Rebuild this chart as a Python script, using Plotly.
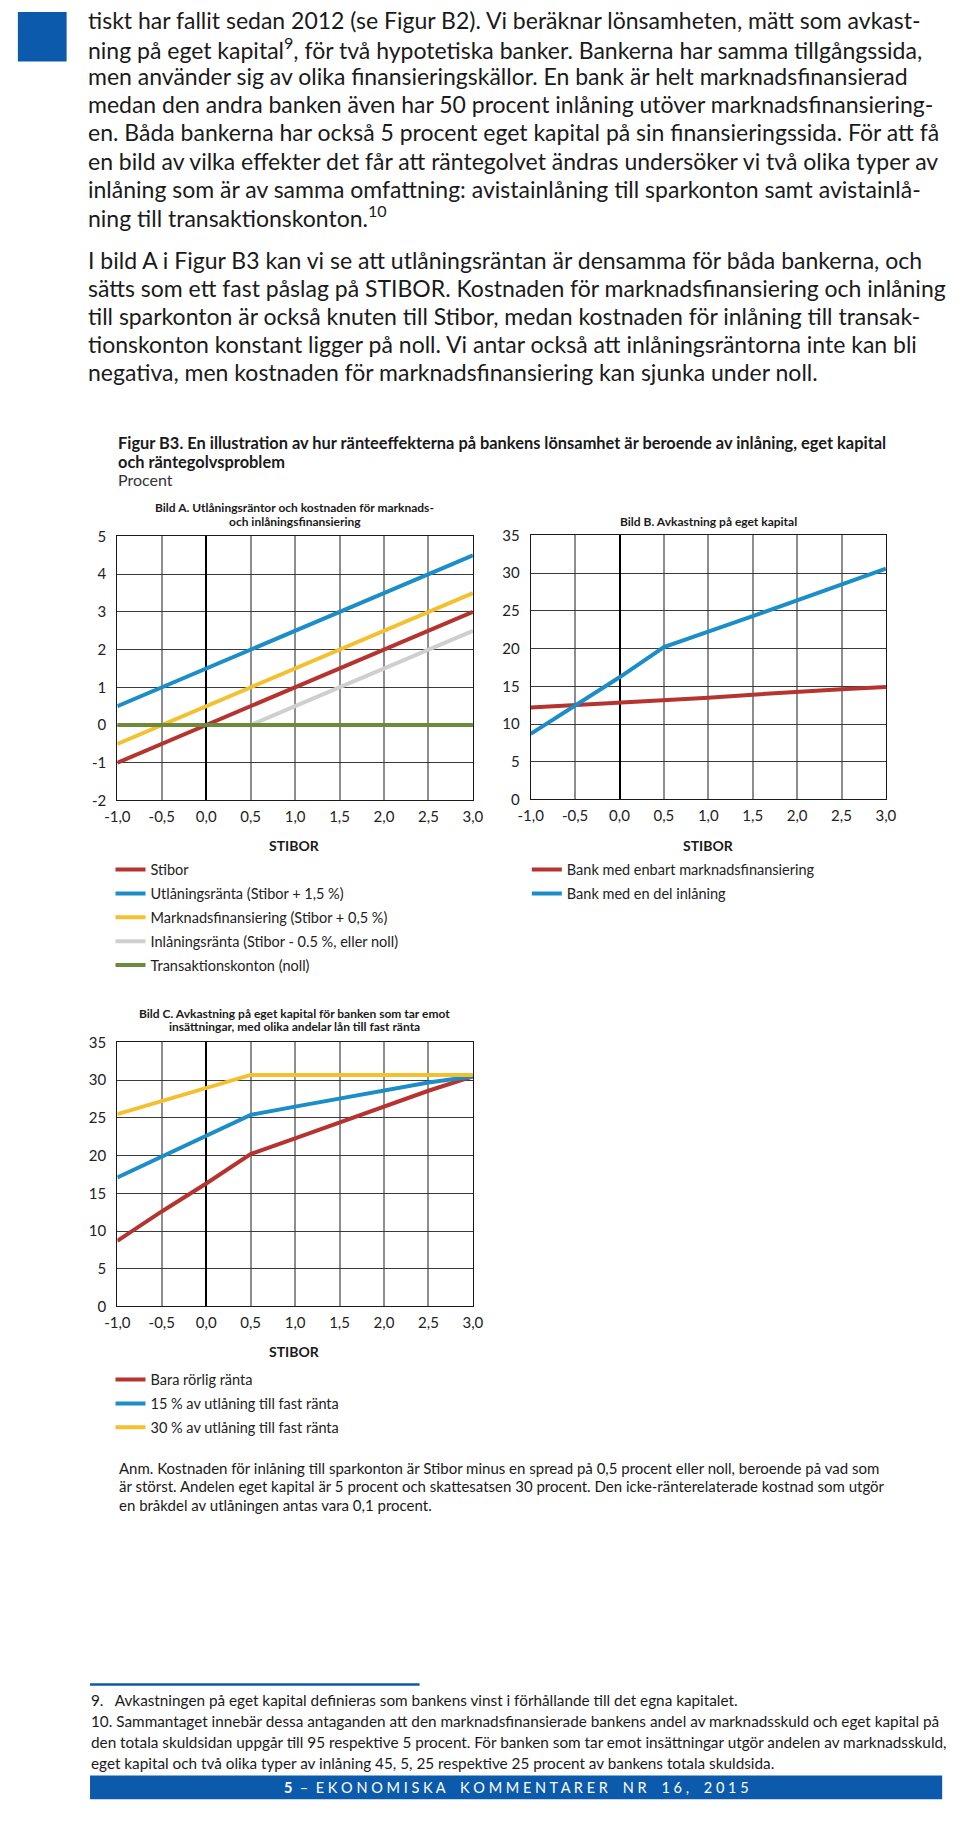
import plotly.graph_objects as go

W, H = 960, 1837

# ---------------- data ----------------
stibor_x = [-1.0, -0.5, 0.0, 0.5, 1.0, 1.5, 2.0, 2.5, 3.0]
x_ticklabels = ["-1,0", "-0,5", "0,0", "0,5", "1,0", "1,5", "2,0", "2,5", "3,0"]

# Bild A
a_stibor = [-1.0, -0.5, 0.0, 0.5, 1.0, 1.5, 2.0, 2.5, 3.0]
a_utlaning = [0.5, 1.0, 1.5, 2.0, 2.5, 3.0, 3.5, 4.0, 4.5]
a_marknad = [-0.5, 0.0, 0.5, 1.0, 1.5, 2.0, 2.5, 3.0, 3.5]
a_inlaning = [0.0, 0.0, 0.0, 0.0, 0.5, 1.0, 1.5, 2.0, 2.5]
a_transakt = [0.0, 0.0, 0.0, 0.0, 0.0, 0.0, 0.0, 0.0, 0.0]
a_yticks = [-2, -1, 0, 1, 2, 3, 4, 5]
a_yticklabels = ["-2", "-1", "0", "1", "2", "3", "4", "5"]

# Bild B
b_marknad = [12.2, 12.5, 12.8, 13.2, 13.5, 13.9, 14.3, 14.6, 14.9]
b_inlaning = [8.7, 12.5, 16.2, 20.2, 22.2, 24.3, 26.4, 28.5, 30.6]

# Bild C
c_rorlig = [8.7, 12.6, 16.3, 20.2, 22.3, 24.4, 26.5, 28.6, 30.5]
c_fast15 = [17.1, 19.9, 22.7, 25.4, 26.5, 27.6, 28.6, 29.7, 30.5]
c_fast30 = [25.5, 27.2, 29.0, 30.7, 30.7, 30.7, 30.7, 30.7, 30.7]

bc_yticks = [0, 5, 10, 15, 20, 25, 30, 35]
bc_yticklabels = ["0", "5", "10", "15", "20", "25", "30", "35"]

names_a = ["Stibor", "Utlåningsränta (Stibor + 1,5 %)", "Marknadsfinansiering (Stibor + 0,5 %)",
           "Inlåningsränta (Stibor - 0.5 %, eller noll)", "Transaktionskonton (noll)"]
names_b = ["Bank med enbart marknadsfinansiering", "Bank med en del inlåning"]
names_c = ["Bara rörlig ränta", "15 % av utlåning till fast ränta", "30 % av utlåning till fast ränta"]

RED = "#b5342f"
BLUE = "#1b8ec8"
YELLOW = "#f3c12f"
GREY = "#cfcfcf"
GREEN = "#6b8a3b"
NAVY = "#0b5aab"
FONT = "Lato"


def px(x):
    return x / W


def py(y):
    return 1 - y / H


fig = go.Figure()


def add(xs, ys, name, color, ax, leg):
    fig.add_trace(go.Scatter(
        x=xs, y=ys, name=name, mode="lines",
        line=dict(color=color, width=4),
        xaxis=ax[0], yaxis=ax[1], legend=leg, legendgroup=name,
        hoverinfo="skip"))


add(stibor_x, a_stibor, names_a[0], RED, ("x", "y"), "legend")
add(stibor_x, a_utlaning, names_a[1], BLUE, ("x", "y"), "legend")
add(stibor_x, a_marknad, names_a[2], YELLOW, ("x", "y"), "legend")
add(stibor_x, a_inlaning, names_a[3], GREY, ("x", "y"), "legend")
add(stibor_x, a_transakt, names_a[4], GREEN, ("x", "y"), "legend")

add(stibor_x, b_marknad, names_b[0], RED, ("x2", "y2"), "legend2")
add(stibor_x, b_inlaning, names_b[1], BLUE, ("x2", "y2"), "legend2")

add(stibor_x, c_rorlig, names_c[0], RED, ("x3", "y3"), "legend3")
add(stibor_x, c_fast15, names_c[1], BLUE, ("x3", "y3"), "legend3")
add(stibor_x, c_fast30, names_c[2], YELLOW, ("x3", "y3"), "legend3")


def xax(dom, anchor):
    return dict(domain=dom, anchor=anchor, range=[-1, 3], tickvals=stibor_x, ticktext=x_ticklabels,
                showgrid=True, gridcolor="#8e8e8e", gridwidth=1.5,
                zeroline=True, zerolinecolor="#000000", zerolinewidth=1.8,
                showline=True, linecolor="#1a1a1a", linewidth=1.2, mirror=True,
                ticks="", ticklabelstandoff=2,
                tickfont=dict(family=FONT, size=15, color="#222"), fixedrange=True)


def yax(dom, anchor, rng, tv, tt):
    return dict(domain=dom, anchor=anchor, range=rng, tickvals=tv, ticktext=tt,
                showgrid=True, gridcolor="#3a3a3a", gridwidth=1,
                zeroline=False,
                showline=True, linecolor="#1a1a1a", linewidth=1.2, mirror=True,
                ticks="", ticklabelstandoff=7,
                tickfont=dict(family=FONT, size=15, color="#222"), fixedrange=True)


xa = [px(107), px(471.7)]
xb = [px(531), px(895.3)]
ya = [py(798.3), py(531.7)]
yb = [py(797.3), py(530.7)]
yc = [py(1309.3), py(1042.7)]

leg_common = dict(xanchor="left", yanchor="top", bgcolor="rgba(0,0,0,0)",
                  font=dict(family=FONT, size=14.5, color="#222"),
                  tracegroupgap=2, itemwidth=30, traceorder="grouped")

fig.update_layout(
    width=W, height=H, margin=dict(l=0, r=0, t=0, b=0),
    paper_bgcolor="white", plot_bgcolor="white",
    showlegend=True,
    xaxis=xax(xa, "y"), yaxis=yax(ya, "x", [-2, 5], a_yticks, a_yticklabels),
    xaxis2=xax(xb, "y2"), yaxis2=yax(yb, "x2", [0, 35], bc_yticks, bc_yticklabels),
    xaxis3=xax(xa, "y3"), yaxis3=yax(yc, "x3", [0, 35], bc_yticks, bc_yticklabels),
    legend=dict(x=px(100), y=py(852), **leg_common),
    legend2=dict(x=px(527), y=py(852), **leg_common),
    legend3=dict(x=px(100), y=py(1367), **leg_common),
)

ann = []


def text(x, y, s, size, bold=False, color="#1a1a1a", anchor="left", family=FONT):
    ann.append(dict(x=px(x), y=py(y), xref="paper", yref="paper", text=s, showarrow=False,
                    xanchor=anchor, yanchor="middle",
                    font=dict(family=family, size=size, color=color, weight="bold" if bold else "normal")))


body1 = [
    "tiskt har fallit sedan 2012 (se Figur B2). Vi beräknar lönsamheten, mätt som avkast-",
    "ning på eget kapital<sup>9</sup>, för två hypotetiska banker. Bankerna har samma tillgångssida,",
    "men använder sig av olika finansieringskällor. En bank är helt marknadsfinansierad",
    "medan den andra banken även har 50 procent inlåning utöver marknadsfinansiering-",
    "en. Båda bankerna har också 5 procent eget kapital på sin finansieringssida. För att få",
    "en bild av vilka effekter det får att räntegolvet ändras undersöker vi två olika typer av",
    "inlåning som är av samma omfattning: avistainlåning till sparkonton samt avistainlå-",
    "ning till transaktionskonton.<sup>10</sup>",
]
body2 = [
    "I bild A i Figur B3 kan vi se att utlåningsräntan är densamma för båda bankerna, och",
    "sätts som ett fast påslag på STIBOR. Kostnaden för marknadsfinansiering och inlåning",
    "till sparkonton är också knuten till Stibor, medan kostnaden för inlåning till transak-",
    "tionskonton konstant ligger på noll. Vi antar också att inlåningsräntorna inte kan bli",
    "negativa, men kostnaden för marknadsfinansiering kan sjunka under noll.",
]
for i, s in enumerate(body1):
    text(75, 10 + i * 28.4, s, 23)
for i, s in enumerate(body2):
    text(75, 252 + i * 28.4, s, 23)

# Figure title
text(106, 437, "Figur B3. En illustration av hur ränteeffekterna på bankens lönsamhet är beroende av inlåning, eget kapital", 16.4, bold=True)
text(106, 456, "och räntegolvsproblem", 16.4, bold=True)
text(106, 474, "Procent", 16, color="#333")

# Panel titles
text(289, 502, "Bild A. Utlåningsräntor och kostnaden för marknads-", 12, bold=True, anchor="center")
text(289, 517, "och inlåningsfinansiering", 12, bold=True, anchor="center")
text(713, 517, "Bild B. Avkastning på eget kapital", 12, bold=True, anchor="center")
text(289, 1013, "Bild C. Avkastning på eget kapital för banken som tar emot", 12, bold=True, anchor="center")
text(289, 1027, "insättningar, med olika andelar lån till fast ränta", 12, bold=True, anchor="center")

# Axis titles
text(289, 844, "STIBOR", 14, bold=True, anchor="center")
text(713, 844, "STIBOR", 14, bold=True, anchor="center")
text(289, 1355, "STIBOR", 14, bold=True, anchor="center")

# Note
anm = [
    "Anm. Kostnaden för inlåning till sparkonton är Stibor minus en spread på 0,5 procent eller noll, beroende på vad som",
    "är störst. Andelen eget kapital är 5 procent och skattesatsen 30 procent. Den icke-ränterelaterade kostnad som utgör",
    "en bråkdel av utlåningen antas vara 0,1 procent.",
]
for i, s in enumerate(anm):
    text(107, 1472 + i * 19, s, 15)

# Footnotes
foot = [
    "9.   Avkastningen på eget kapital definieras som bankens vinst i förhållande till det egna kapitalet.",
    "10. Sammantaget innebär dessa antaganden att den marknadsfinansierade bankens andel av marknadsskuld och eget kapital på",
    "den totala skuldsidan uppgår till 95 respektive 5 procent. För banken som tar emot insättningar utgör andelen av marknadsskuld,",
    "eget kapital och två olika typer av inlåning 45, 5, 25 respektive 25 procent av bankens totala skuldsida.",
]
for i, s in enumerate(foot):
    text(78, 1707 + i * 21, s, 15.3)

text(516, 1795, "<b>5</b>  –  E K O N O M I S K A    K O M M E N T A R E R    N R    1 6 ,    2 0 1 5", 14.5,
     color="white", anchor="center")

shapes = [
    dict(type="rect", xref="paper", yref="paper", x0=px(5), x1=px(55), y0=py(52), y1=py(2),
         fillcolor=NAVY, line=dict(width=0)),
    dict(type="line", xref="paper", yref="paper", x0=px(79), x1=px(417), y0=py(1691), y1=py(1691),
         line=dict(color=NAVY, width=2.5)),
    dict(type="rect", xref="paper", yref="paper", x0=px(79), x1=px(953), y0=py(1807), y1=py(1783),
         fillcolor=NAVY, line=dict(width=0)),
]

fig.update_layout(annotations=ann, shapes=shapes)
fig.write_html("out.html", post_script="document.body.style.margin='0px';")
